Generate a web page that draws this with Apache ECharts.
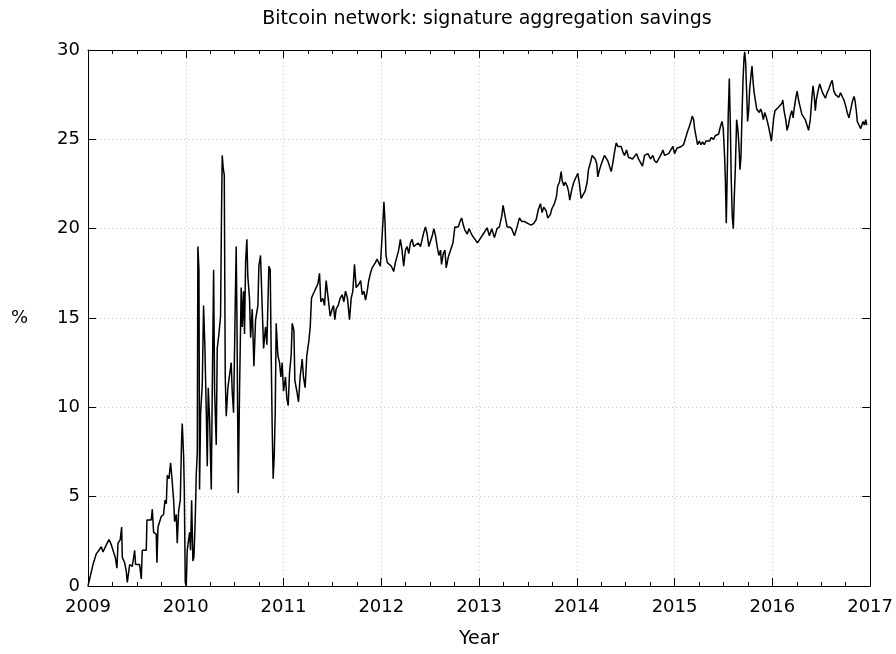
<!DOCTYPE html>
<html>
<head>
<meta charset="utf-8">
<script src="https://cdn.jsdelivr.net/npm/echarts@6/dist/echarts.min.js"></script>
<style>
html,body{margin:0;padding:0;background:#fff;overflow:hidden;}
#chart{width:896px;height:654px;}
</style>
</head>
<body>
<div id="chart"></div>
<script>
var titleText = 'Bitcoin network: signature aggregation savings';
var xName = 'Year';
var yName = '%';
var xTicks = [2009, 2010, 2011, 2012, 2013, 2014, 2015, 2016, 2017];
var yTicks = [0, 5, 10, 15, 20, 25, 30];

var years2009 = [2009.000,2009.010,2009.051,2009.085,2009.112,2009.136,2009.153,2009.187,2009.215,2009.239,2009.256,2009.279,2009.296,2009.307,2009.330,2009.344,2009.351,2009.375,2009.392,2009.402,2009.419,2009.426,2009.453,2009.477,2009.487,2009.528,2009.545,2009.555,2009.596,2009.603,2009.647,2009.658,2009.671,2009.698,2009.705,2009.716,2009.733,2009.750,2009.773,2009.787,2009.801,2009.811,2009.828,2009.845,2009.859,2009.876,2009.886,2009.903,2009.913,2009.927,2009.944,2009.957,2009.964,2009.978,2009.985,2009.995];
var values2009 = [0,0,1.2,1.8,2.0,2.2,1.9,2.3,2.6,2.3,2.4,1.6,1.0,2.4,2.6,3.3,1.6,1.3,0.8,0.2,0.2,1.2,1.1,2.0,1.2,1.2,0.4,2.0,2.0,3.7,3.7,4.3,3.0,2.9,1.3,3.3,3.4,3.9,4.0,4.8,4.6,6.2,6.0,6.9,6.0,4.8,3.6,4.0,2.4,4.2,4.8,8.1,9.1,7.3,5.4,0.2];

var years2010 = [2010.005,2010.015,2010.032,2010.039,2010.049,2010.060,2010.073,2010.083,2010.094,2010.100,2010.107,2010.118,2010.124,2010.135,2010.141,2010.152,2010.169,2010.182,2010.196,2010.210,2010.220,2010.230,2010.244,2010.261,2010.271,2010.285,2010.295,2010.312,2010.322,2010.339,2010.356,2010.366,2010.373,2010.383,2010.394,2010.404,2010.414,2010.431,2010.448,2010.465,2010.475,2010.489,2010.506,2010.516,2010.523,2010.537,2010.550,2010.567,2010.578,2010.591,2010.601,2010.612,2010.625,2010.635,2010.652,2010.663,2010.680,2010.697,2010.714,2010.738,2010.748,2010.765,2010.779,2010.796,2010.816,2010.830,2010.850,2010.864,2010.874,2010.884,2010.894,2010.905,2010.915,2010.925,2010.942,2010.959,2010.973,2010.986];
var values2010 = [0,2.0,2.0,3.0,2.0,4.8,1.4,1.6,3.2,4.4,6.2,7.5,19.0,17.7,5.4,9.7,11.3,15.7,13.3,9.7,6.7,11.1,9.3,5.4,10.9,17.7,10.9,7.9,13.3,14.1,15.1,21.0,24.1,23.4,23.0,11.7,9.5,11.1,11.1,12.5,10.9,9.7,15.7,19.0,15.3,5.2,10.9,16.7,14.5,16.5,14.1,18.1,19.4,17.3,16.1,13.9,15.5,12.3,14.9,15.7,17.9,18.5,16.1,13.3,14.5,13.5,17.9,17.7,12.9,8.9,6.0,7.3,9.7,14.7,12.9,12.5,11.7,12.5];

var years2011 = [2011.000,2011.020,2011.034,2011.048,2011.061,2011.078,2011.089,2011.106,2011.116,2011.136,2011.153,2011.170,2011.191,2011.204,2011.221,2011.238,2011.259,2011.273,2011.286,2011.300,2011.317,2011.334,2011.351,2011.368,2011.382,2011.402,2011.419,2011.436,2011.457,2011.477,2011.497,2011.511,2011.525,2011.538,2011.559,2011.579,2011.600,2011.617,2011.634,2011.654,2011.675,2011.692,2011.709,2011.726,2011.743,2011.772,2011.789,2011.805,2011.822,2011.839,2011.856,2011.872,2011.889,2011.906,2011.923,2011.940,2011.956,2011.973,2011.990];
var values2011 = [10.9,11.7,10.5,10.1,11.9,12.9,14.7,14.3,11.5,10.9,10.3,11.7,12.7,11.7,11.1,12.9,13.7,14.5,16.1,16.3,16.5,16.7,16.9,17.5,15.9,16.1,15.7,17.1,16.1,15.1,15.5,15.7,14.9,15.5,15.7,16.1,16.3,15.9,16.5,16.1,14.9,16.1,16.5,18.0,16.7,16.9,17.1,16.3,16.5,16.0,16.5,17.1,17.5,17.8,17.9,18.1,18.3,18.1,17.9];

var years2012 = [2012.000,2012.017,2012.027,2012.038,2012.048,2012.062,2012.082,2012.103,2012.127,2012.144,2012.161,2012.178,2012.195,2012.212,2012.229,2012.247,2012.264,2012.281,2012.298,2012.315,2012.332,2012.349,2012.377,2012.401,2012.418,2012.435,2012.452,2012.469,2012.486,2012.503,2012.521,2012.538,2012.555,2012.572,2012.589,2012.606,2012.616,2012.634,2012.651,2012.664,2012.685,2012.709,2012.733,2012.753,2012.771,2012.788,2012.805,2012.822,2012.839,2012.856,2012.880,2012.897,2012.914,2012.932,2012.959,2012.983];
var values2012 = [18.8,20.4,21.5,20.4,18.5,18.1,18.2,17.9,17.6,18.1,18.0,18.8,19.4,18.8,17.9,18.8,19.0,18.6,19.2,19.4,19.0,18.9,19.2,19.0,19.4,19.8,20.1,19.7,19.0,19.0,19.6,20.0,19.6,19.0,18.5,18.8,18.0,18.6,18.8,17.8,18.4,18.8,19.2,20.1,20.2,20.1,20.4,20.6,20.2,19.9,19.7,20.0,19.8,19.6,19.4,19.2];

var years2013 = [2013.000,2013.055,2013.082,2013.106,2013.130,2013.157,2013.184,2013.208,2013.232,2013.246,2013.266,2013.287,2013.311,2013.334,2013.362,2013.389,2013.413,2013.437,2013.464,2013.498,2013.532,2013.560,2013.584,2013.608,2013.628,2013.645,2013.662,2013.686,2013.703,2013.730,2013.744,2013.771,2013.792,2013.805,2013.823,2013.840,2013.850,2013.867,2013.881,2013.901,2013.915,2013.928,2013.949,2013.969,2013.986];
var values2013 = [19.1,19.8,20.05,19.6,20.0,19.5,20.0,20.1,20.7,21.3,20.7,20.1,20.1,20.0,19.6,20.1,20.6,20.4,20.4,20.3,20.2,20.3,20.5,21.1,21.4,20.9,21.2,21.0,20.6,20.8,21.1,21.4,21.8,22.4,22.6,23.2,22.7,22.4,22.6,22.4,22.1,21.6,22.2,22.6,22.7];

var years2014 = [2014.010,2014.027,2014.044,2014.065,2014.085,2014.106,2014.119,2014.140,2014.157,2014.174,2014.188,2014.205,2014.215,2014.232,2014.256,2014.283,2014.300,2014.317,2014.334,2014.352,2014.369,2014.386,2014.403,2014.420,2014.437,2014.454,2014.471,2014.488,2014.509,2014.529,2014.549,2014.570,2014.590,2014.611,2014.631,2014.652,2014.672,2014.693,2014.713,2014.727,2014.754,2014.778,2014.795,2014.816,2014.836,2014.857,2014.881,2014.898,2014.918,2014.939,2014.959,2014.983];
var values2014 = [23.1,22.5,21.7,21.9,22.1,22.6,23.3,23.7,24.1,24.2,23.9,23.6,22.9,23.3,23.7,24.1,24.2,23.8,23.5,23.2,23.7,24.3,24.8,24.6,24.5,24.6,24.3,24.1,24.4,24.0,24.1,23.9,24.0,24.2,23.9,23.7,23.5,24.1,24.0,24.2,23.9,24.1,23.8,23.7,23.6,24.1,24.4,24.1,24.0,24.2,24.1,24.6];

var years2015 = [2015.000,2015.024,2015.041,2015.068,2015.092,2015.109,2015.130,2015.150,2015.167,2015.181,2015.195,2015.205,2015.222,2015.235,2015.253,2015.270,2015.287,2015.304,2015.321,2015.341,2015.358,2015.375,2015.399,2015.416,2015.433,2015.451,2015.468,2015.485,2015.498,2015.512,2015.519,2015.529,2015.539,2015.549,2015.560,2015.570,2015.580,2015.590,2015.601,2015.611,2015.621,2015.635,2015.648,2015.659,2015.669,2015.679,2015.689,2015.700,2015.710,2015.717,2015.727,2015.737,2015.747,2015.758,2015.768,2015.782,2015.792,2015.802,2015.812,2015.826,2015.840,2015.853,2015.867,2015.881,2015.894,2015.908,2015.922,2015.935,2015.949,2015.962,2015.980,2015.990];
var values2015 = [24.2,24.5,24.4,24.6,24.7,25.0,25.4,25.7,26.0,26.3,26.1,25.6,25.1,24.7,24.9,24.7,24.85,24.7,24.9,24.85,24.9,25.1,25.0,25.2,25.1,25.3,25.7,26.0,25.6,24.0,22.9,20.3,23.1,26.4,28.4,25.9,22.7,20.7,20.0,21.8,23.3,26.1,25.5,24.6,23.3,24.0,26.2,28.3,29.5,29.9,29.3,27.7,26.0,26.6,27.8,28.6,29.1,28.3,27.7,27.2,26.7,26.8,26.5,26.7,26.5,26.1,26.5,26.3,26.0,25.7,25.2,24.9];

var years2016 = [2016.000,2016.014,2016.027,2016.045,2016.062,2016.079,2016.096,2016.107,2016.120,2016.137,2016.151,2016.165,2016.182,2016.199,2016.213,2016.223,2016.241,2016.254,2016.268,2016.285,2016.302,2016.320,2016.337,2016.354,2016.371,2016.388,2016.405,2016.416,2016.430,2016.440,2016.450,2016.467,2016.485,2016.502,2016.515,2016.529,2016.543,2016.560,2016.577,2016.595,2016.612,2016.629,2016.646,2016.663,2016.680,2016.698,2016.715,2016.732,2016.749,2016.766,2016.784,2016.801,2016.818,2016.835,2016.845,2016.859,2016.869,2016.887,2016.904,2016.914,2016.928,2016.942,2016.955,2016.966];
var values2016 = [25.4,26.2,26.6,26.6,26.8,26.7,27.0,27.2,26.6,26.1,25.5,25.8,26.3,26.6,26.2,26.7,27.35,27.7,27.2,26.8,26.4,26.4,26.1,25.8,25.5,26.1,27.35,28.0,27.35,26.6,27.2,27.7,28.1,27.8,27.6,27.7,27.3,27.6,27.8,28.1,28.3,27.7,27.5,27.4,27.35,27.6,27.4,27.2,26.9,26.5,26.2,26.3,27.1,27.4,27.2,26.6,26.0,26.1,25.6,25.5,26.0,25.8,26.1,25.8];

var years = [].concat(years2009, years2010, years2011, years2012, years2013, years2014, years2015, years2016);
var values = [].concat(values2009, values2010, values2011, values2012, values2013, values2014, values2015, values2016);
var seriesData = years.map(function (y, i) { return [y, values[i]]; });

var FONT = 'DejaVu Sans';
var axisColor = '#000';
var gridColor = '#c8c8c8';

function xAxisCfg(pos, showLabel) {
  return {
    type: 'value', position: pos,
    min: xTicks[0], max: xTicks[xTicks.length - 1], interval: 1,
    axisLine: { show: true, onZero: false, lineStyle: { color: axisColor, width: 1 } },
    axisTick: { show: true, inside: true, length: 8, lineStyle: { color: axisColor } },
    minorTick: { show: true, splitNumber: 4, length: 4, lineStyle: { color: axisColor } },
    splitLine: { show: showLabel, lineStyle: { color: gridColor, type: [1, 3], width: 1 } },
    axisLabel: { show: showLabel, fontSize: 18, color: '#000', fontFamily: FONT, margin: 12,
      formatter: function (v) { return String(v); } },
    name: showLabel ? xName : '', nameLocation: 'middle', nameGap: 44,
    nameTextStyle: { fontSize: 19, color: '#000', fontFamily: FONT }
  };
}
function yAxisCfg(pos, showLabel) {
  return {
    type: 'value', position: pos,
    min: yTicks[0], max: yTicks[yTicks.length - 1], interval: 5,
    axisLine: { show: true, onZero: false, lineStyle: { color: axisColor, width: 1 } },
    axisTick: { show: true, inside: true, length: 8, lineStyle: { color: axisColor } },
    splitLine: { show: showLabel, lineStyle: { color: gridColor, type: [1, 3], width: 1 } },
    axisLabel: { show: showLabel, fontSize: 18, color: '#000', fontFamily: FONT, margin: 8,
      formatter: function (v) { return String(v); } },
    name: showLabel ? yName : '', nameLocation: 'middle', nameRotate: 0, nameGap: 60,
    nameTextStyle: { fontSize: 18, color: '#000', fontFamily: FONT }
  };
}

var chart = echarts.init(document.getElementById('chart'), null, { renderer: 'canvas' });
chart.setOption({
  animation: false,
  backgroundColor: '#fff',
  title: {
    text: titleText, left: 482, top: 5, textAlign: 'center',
    textStyle: { fontSize: 19, fontWeight: 'normal', color: '#000', fontFamily: FONT }
  },
  grid: { left: 88, right: 7, top: 50, bottom: 64, containLabel: false },
  xAxis: [xAxisCfg('bottom', true), xAxisCfg('top', false)],
  yAxis: [yAxisCfg('left', true), yAxisCfg('right', false)],
  series: [{
    type: 'line', xAxisIndex: 0, yAxisIndex: 0,
    data: seriesData, showSymbol: false, symbol: 'none',
    lineStyle: { color: '#000', width: 1.5 }
  }]
});
</script>
</body>
</html>
